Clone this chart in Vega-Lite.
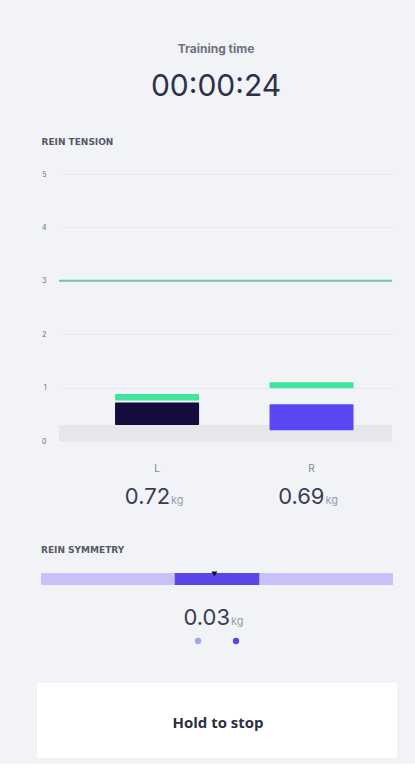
{
  "$schema": "https://vega.github.io/schema/vega-lite/v6.json",
  "background": "#f2f3f7",
  "padding": {"left": 37, "top": 43, "right": 18, "bottom": 6},
  "spacing": 0,
  "resolve": {"scale": {"color": "independent", "x": "independent"}},
  "config": {
    "view": {"stroke": null},
    "font": "Inter",
    "concat": {"spacing": 0}
  },
  "title": {
    "text": "Training time",
    "subtitle": "00:00:24",
    "anchor": "middle",
    "frame": "bounds",
    "dx": -12,
    "fontSize": 12,
    "fontWeight": "bold",
    "color": "#6e7082",
    "font": "Inter",
    "subtitleFont": "Inter",
    "subtitleFontSize": 30,
    "subtitleColor": "#2e3047",
    "subtitleFontWeight": "normal",
    "subtitlePadding": 16,
    "offset": 35
  },
  "datasets": {
    "tension": [
      {"side": "L", "low": 0.3, "value": 0.72, "capLow": 0.76, "capHigh": 0.88, "unit": "kg"},
      {"side": "R", "low": 0.2, "value": 0.69, "capLow": 0.99, "capHigh": 1.1, "unit": "kg"}
    ],
    "threshold": [{"limit": 3}],
    "baseline": [{"from": 0, "to": 0.3}],
    "symmetry": [{"rangeFrom": -2, "rangeTo": 2, "zoneFrom": -0.48, "zoneTo": 0.48, "diff": -0.03, "spread": 0.03, "unit": "kg"}],
    "pages": [{"slot": -1, "state": "inactive"}, {"slot": 1, "state": "active"}],
    "button": [{"label": "Hold to stop"}]
  },
  "vconcat": [
    {
      "width": 333,
      "height": 267,
      "title": {"text": "REIN TENSION", "anchor": "start", "frame": "bounds", "fontSize": 9, "fontWeight": "bold", "color": "#565869", "offset": 23, "font": "DejaVu Sans"},
      "layer": [
        {
          "data": {"name": "baseline"},
          "mark": {"type": "rect", "color": "#e6e7eb"},
          "encoding": {
            "y": {"field": "from", "type": "quantitative", "scale": {"domain": [0, 5], "nice": false},
              "axis": {"values": [0, 1, 2, 3, 4, 5], "grid": true, "gridColor": "#e8eaef", "domain": false, "ticks": false, "labelPadding": 13, "labelFontSize": 7, "labelColor": "#6b6d7c", "title": null, "format": "d"}},
            "y2": {"field": "to"}
          }
        },
        {
          "data": {"name": "threshold"},
          "mark": {"type": "rule", "color": "#74c6ab", "strokeWidth": 2},
          "encoding": {"y": {"field": "limit", "type": "quantitative"}}
        },
        {
          "data": {"name": "tension"},
          "mark": {"type": "bar", "cornerRadius": 1},
          "encoding": {
            "x": {"field": "side", "type": "nominal",
              "scale": {"type": "band", "domain": ["L", "R"], "paddingInner": 0.456, "paddingOuter": 0.306, "align": 0.593},
              "axis": {"orient": "bottom", "domain": false, "ticks": false, "labelPadding": 22, "labelFontSize": 10, "labelColor": "#808395", "labelAngle": 0, "title": null}},
            "y": {"field": "low", "type": "quantitative"},
            "y2": {"field": "value"},
            "color": {"field": "side", "type": "nominal", "scale": {"domain": ["L", "R"], "range": ["#130c3c", "#5b46f4"]}, "legend": null}
          }
        },
        {
          "data": {"name": "tension"},
          "mark": {"type": "bar", "color": "#3fe59d", "cornerRadius": 1},
          "encoding": {
            "x": {"field": "side", "type": "nominal"},
            "y": {"field": "capLow", "type": "quantitative"},
            "y2": {"field": "capHigh"}
          }
        }
      ]
    },
    {
      "width": 333,
      "height": 73,
      "data": {"name": "tension"},
      "encoding": {
        "x": {"field": "side", "type": "nominal", "scale": {"type": "band", "domain": ["L", "R"], "paddingInner": 0.456, "paddingOuter": 0.306, "align": 0.593}, "axis": null}
      },
      "layer": [
        {
          "mark": {"type": "text", "align": "right", "baseline": "alphabetic", "dx": 13, "dy": -6, "fontSize": 22, "color": "#3b3d52", "font": "Inter"},
          "encoding": {"text": {"field": "value", "type": "quantitative", "format": ".2f"}}
        },
        {
          "mark": {"type": "text", "align": "left", "baseline": "alphabetic", "dx": 14, "dy": -6, "fontSize": 11, "color": "#9a9cab", "font": "Inter"},
          "encoding": {"text": {"field": "unit", "type": "nominal"}}
        }
      ]
    },
    {
      "width": 352,
      "height": 12,
      "title": {"text": "REIN SYMMETRY", "anchor": "start", "frame": "bounds", "fontSize": 9, "fontWeight": "bold", "color": "#565869", "offset": 16, "font": "DejaVu Sans"},
      "data": {"name": "symmetry"},
      "layer": [
        {
          "mark": {"type": "rect", "color": "#c8c1f7", "xOffset": -18, "x2Offset": -18},
          "encoding": {
            "x": {"field": "rangeFrom", "type": "quantitative", "scale": {"domain": [-2, 2], "nice": false, "zero": false}, "axis": null},
            "x2": {"field": "rangeTo"}
          }
        },
        {
          "mark": {"type": "rect", "color": "#5a46e8", "xOffset": -18, "x2Offset": -18},
          "encoding": {
            "x": {"field": "zoneFrom", "type": "quantitative"},
            "x2": {"field": "zoneTo"}
          }
        },
        {
          "mark": {"type": "point", "shape": "triangle-down", "filled": true, "color": "#111122", "size": 35, "opacity": 1, "xOffset": -18, "yOffset": -5},
          "encoding": {"x": {"field": "diff", "type": "quantitative"}}
        }
      ]
    },
    {
      "width": 316,
      "height": 98,
      "layer": [
        {
          "data": {"name": "symmetry"},
          "mark": {"type": "text", "align": "right", "baseline": "alphabetic", "dx": 13, "dy": -9, "fontSize": 22, "color": "#3b3d52", "font": "Inter"},
          "encoding": {"text": {"field": "spread", "type": "quantitative", "format": ".2f"}}
        },
        {
          "data": {"name": "symmetry"},
          "mark": {"type": "text", "align": "left", "baseline": "alphabetic", "dx": 14, "dy": -9, "fontSize": 11, "color": "#9a9cab", "font": "Inter"},
          "encoding": {"text": {"field": "unit", "type": "nominal"}}
        },
        {
          "data": {"name": "pages"},
          "mark": {"type": "point", "shape": "circle", "filled": true, "size": 40, "opacity": 1, "yOffset": 7},
          "encoding": {
            "x": {"field": "slot", "type": "quantitative", "scale": {"domain": [-8.32, 8.32], "nice": false, "zero": false}, "axis": null},
            "color": {"field": "state", "type": "nominal", "scale": {"domain": ["inactive", "active"], "range": ["#a79ff0", "#5745dc"]}, "legend": null}
          }
        }
      ]
    },
    {
      "width": 360,
      "height": 75,
      "data": {"name": "button"},
      "layer": [
        {"mark": {"type": "rect", "color": "#c9ccd6", "opacity": 0.45, "xOffset": -22, "x2Offset": -22, "yOffset": 4, "y2Offset": 4}, "encoding": {"x": {"value": 0}, "x2": {"value": "width"}}},
        {"mark": {"type": "rect", "color": "#d6d9e0", "opacity": 0.6, "xOffset": -22, "x2Offset": -22, "yOffset": 2, "y2Offset": 2}, "encoding": {"x": {"value": 0}, "x2": {"value": "width"}}},
        {"mark": {"type": "rect", "color": "#ffffff", "xOffset": -22, "x2Offset": -22}, "encoding": {"x": {"value": 0}, "x2": {"value": "width"}}},
        {
          "mark": {"type": "text", "fontSize": 15, "fontWeight": "bold", "color": "#2d2f42", "font": "Open Sans", "baseline": "middle", "dx": -21, "dy": 2},
          "encoding": {"text": {"field": "label", "type": "nominal"}}
        }
      ]
    }
  ]
}
